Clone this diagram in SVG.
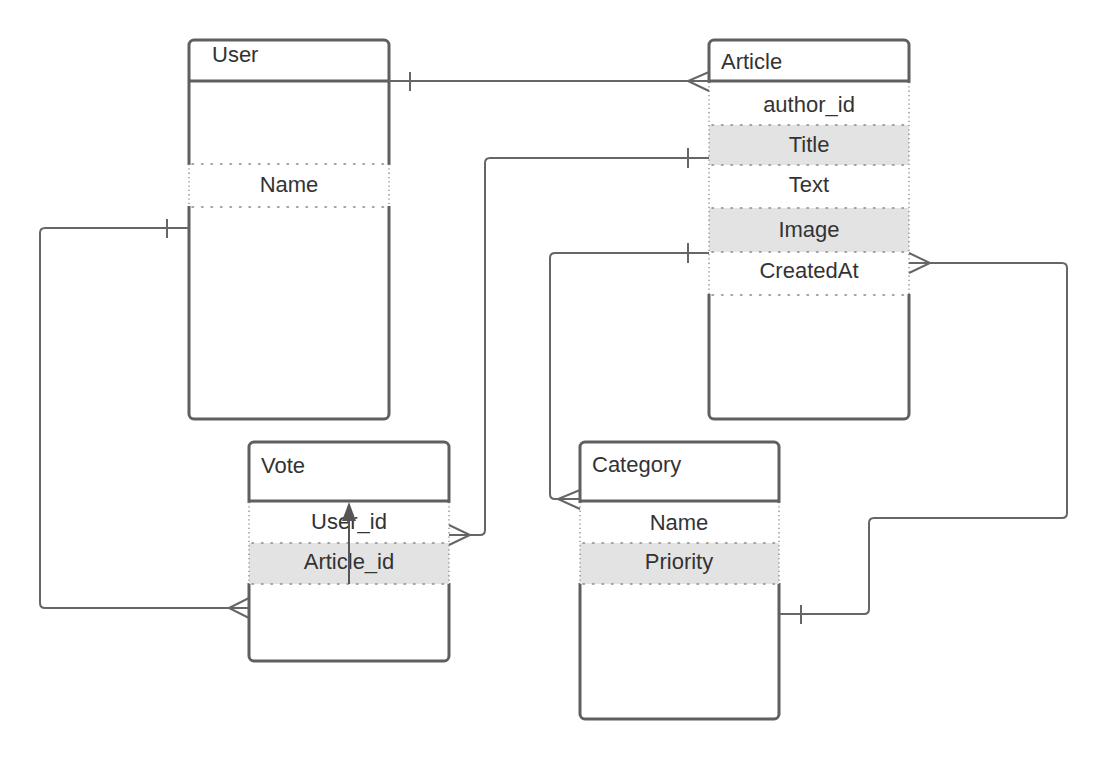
<svg xmlns="http://www.w3.org/2000/svg" width="1108" height="760" viewBox="0 0 1108 760">
<style>
.box{fill:#fff;stroke:#5f5f5f;stroke-width:3}
.hdr{fill:none;stroke:#5f5f5f;stroke-width:3}
.row{stroke:#888;stroke-width:1.5;stroke-dasharray:1.5,8;stroke-linecap:round}
.side{stroke:#888;stroke-width:1.3;stroke-dasharray:1.3,3}
.cov{fill:#fff;stroke:none}
.grey{fill:#e3e3e3;stroke:none}
.t{font-family:"Liberation Sans",Arial,sans-serif;font-size:22px;fill:#333}
.c{text-anchor:middle}
.con{fill:none;stroke:#666;stroke-width:2}
</style>
<g id="user">
<rect class="box" x="189" y="40" width="200" height="379" rx="5"/>
<line class="hdr" x1="189" y1="81" x2="389" y2="81"/>
<rect class="cov" x="187" y="165" width="4" height="41"/>
<rect class="cov" x="387" y="165" width="4" height="41"/>
<line class="side" x1="189" y1="164" x2="189" y2="207"/>
<line class="side" x1="389" y1="164" x2="389" y2="207"/>
<line class="row" x1="192" y1="164" x2="387" y2="164"/>
<line class="row" x1="192" y1="207" x2="387" y2="207"/>
<text class="t" x="212" y="62">User</text>
<text class="t c" x="289" y="192">Name</text>
</g>
<g id="article">
<rect class="box" x="709" y="40" width="200" height="379" rx="5"/>
<rect class="cov" x="707" y="83" width="4" height="211"/>
<rect class="cov" x="907" y="83" width="4" height="211"/>
<rect class="grey" x="709" y="125" width="200" height="40"/>
<rect class="grey" x="709" y="208" width="200" height="44"/>
<line class="side" x1="709" y1="82" x2="709" y2="295"/>
<line class="side" x1="909" y1="82" x2="909" y2="295"/>
<line class="hdr" x1="709" y1="81" x2="909" y2="81"/>
<line class="row" x1="712" y1="125" x2="907" y2="125"/>
<line class="row" x1="712" y1="165" x2="907" y2="165"/>
<line class="row" x1="712" y1="208" x2="907" y2="208"/>
<line class="row" x1="712" y1="252" x2="907" y2="252"/>
<line class="row" x1="712" y1="295" x2="907" y2="295"/>
<text class="t" x="721" y="69">Article</text>
<text class="t c" x="809" y="112">author_id</text>
<text class="t c" x="809" y="152">Title</text>
<text class="t c" x="809" y="192">Text</text>
<text class="t c" x="809" y="237">Image</text>
<text class="t c" x="809" y="278">CreatedAt</text>
</g>
<g id="vote">
<rect class="box" x="249" y="442" width="200" height="219" rx="5"/>
<rect class="cov" x="247" y="503" width="4" height="80"/>
<rect class="cov" x="447" y="503" width="4" height="80"/>
<rect class="grey" x="249" y="543" width="200" height="41"/>
<line class="side" x1="249" y1="502" x2="249" y2="584"/>
<line class="side" x1="449" y1="502" x2="449" y2="584"/>
<line class="hdr" x1="249" y1="501" x2="449" y2="501"/>
<line class="row" x1="252" y1="543" x2="447" y2="543"/>
<line class="row" x1="252" y1="584" x2="447" y2="584"/>
<text class="t" x="261" y="473">Vote</text>
<text class="t c" x="349" y="529">User_id</text>
<text class="t c" x="349" y="569">Article_id</text>
<line x1="349" y1="584" x2="349" y2="515" stroke="#555" stroke-width="2"/>
<path d="M349 502 L356 521 L342 521 Z" fill="#555"/>
</g>
<g id="category">
<rect class="box" x="580" y="442" width="199" height="277" rx="5"/>
<rect class="cov" x="578" y="503" width="4" height="80"/>
<rect class="cov" x="777" y="503" width="4" height="80"/>
<rect class="grey" x="580" y="543" width="199" height="41"/>
<line class="side" x1="580" y1="502" x2="580" y2="584"/>
<line class="side" x1="779" y1="502" x2="779" y2="584"/>
<line class="hdr" x1="580" y1="501" x2="779" y2="501"/>
<line class="row" x1="583" y1="543" x2="777" y2="543"/>
<line class="row" x1="583" y1="584" x2="777" y2="584"/>
<text class="t" x="592" y="472">Category</text>
<text class="t c" x="679" y="530">Name</text>
<text class="t c" x="679" y="569">Priority</text>
</g>
<g id="connectors">
<!-- User - Article -->
<path class="con" d="M389 81 H709"/>
<path class="con" d="M410 72 V91"/>
<path class="con" d="M709 72 L688 81 L709 91"/>
<!-- Article Title - Vote -->
<path class="con" d="M709 158 H490 Q485 158 485 163 V530 Q485 535 480 535 H449"/>
<path class="con" d="M688 148 V168"/>
<path class="con" d="M449 525 L470 535 L449 545"/>
<!-- Article Image - Category -->
<path class="con" d="M709 253 H555 Q550 253 550 258 V494 Q550 499 555 499 H580"/>
<path class="con" d="M688 243 V263"/>
<path class="con" d="M580 490 L558 499 L580 509"/>
<!-- Article CreatedAt - Category -->
<path class="con" d="M909 263 H1062 Q1067 263 1067 268 V513 Q1067 518 1062 518 H874 Q869 518 869 523 V609 Q869 614 864 614 H779"/>
<path class="con" d="M909 253 L930 263 L909 273"/>
<path class="con" d="M801 605 V624"/>
<!-- User - Vote -->
<path class="con" d="M189 228 H45 Q40 228 40 233 V603 Q40 608 45 608 H249"/>
<path class="con" d="M167 219 V238"/>
<path class="con" d="M249 598 L229 608 L249 618"/>
</g>
</svg>
